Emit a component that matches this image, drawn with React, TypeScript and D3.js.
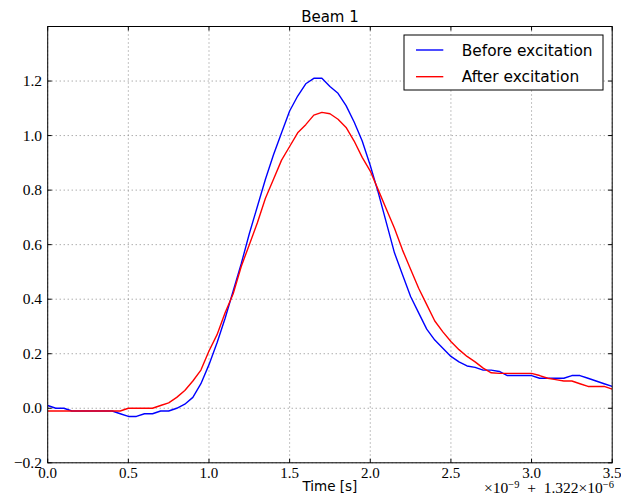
import React from "react";
import * as d3 from "d3";

const times = [
  0.0, 0.05, 0.1, 0.15, 0.2, 0.25, 0.3, 0.35, 0.4, 0.45, 0.5, 0.55, 0.6, 0.65, 0.7, 0.75,
  0.8, 0.85, 0.9, 0.95, 1.0, 1.05, 1.1, 1.15, 1.2, 1.25, 1.3, 1.35, 1.4, 1.45, 1.5, 1.55,
  1.6, 1.65, 1.7, 1.75, 1.8, 1.85, 1.9, 1.95, 2.0, 2.05, 2.1, 2.15, 2.2, 2.25, 2.3, 2.35,
  2.4, 2.45, 2.5, 2.55, 2.6, 2.65, 2.7, 2.75, 2.8, 2.85, 2.9, 2.95, 3.0, 3.05, 3.1, 3.15,
  3.2, 3.25, 3.3, 3.35, 3.4, 3.45, 3.5,
];

const before = [
  0.01, 0.0, 0.0, -0.01, -0.01, -0.01, -0.01, -0.01, -0.01, -0.02, -0.03, -0.03, -0.02, -0.02, -0.01, -0.01,
  0.0, 0.015, 0.04, 0.09, 0.16, 0.24, 0.33, 0.43, 0.53, 0.64, 0.74, 0.84, 0.93, 1.01, 1.09, 1.145,
  1.19, 1.21, 1.21, 1.18, 1.155, 1.11, 1.05, 0.98, 0.89, 0.79, 0.68, 0.57, 0.49, 0.41, 0.35, 0.29,
  0.25, 0.22, 0.19, 0.17, 0.155, 0.15, 0.14, 0.14, 0.135, 0.12, 0.12, 0.12, 0.12, 0.11, 0.11, 0.11,
  0.11, 0.12, 0.12, 0.11, 0.1, 0.09, 0.08,
];

const after = [
  -0.01, -0.01, -0.01, -0.01, -0.01, -0.01, -0.01, -0.01, -0.01, -0.01, 0.0, 0.0, 0.0, 0.0, 0.01, 0.02,
  0.04, 0.065, 0.1, 0.14, 0.21, 0.27, 0.35, 0.42, 0.52, 0.6, 0.68, 0.77, 0.84, 0.91, 0.96, 1.01,
  1.04, 1.075, 1.085, 1.08, 1.06, 1.03, 0.98, 0.92, 0.87, 0.8, 0.73, 0.66, 0.58, 0.51, 0.44, 0.38,
  0.32, 0.28, 0.245, 0.215, 0.19, 0.17, 0.147, 0.13, 0.128, 0.128, 0.128, 0.128, 0.128, 0.12, 0.11, 0.105,
  0.1, 0.1, 0.09, 0.08, 0.08, 0.08, 0.07,
];

const xTicks = [0.0, 0.5, 1.0, 1.5, 2.0, 2.5, 3.0, 3.5];
const yTicks = [-0.2, 0.0, 0.2, 0.4, 0.6, 0.8, 1.0, 1.2];
const seriesNames = ["Before excitation", "After excitation"];
const seriesColors = ["#0000ff", "#ff0000"];
const title = "Beam 1";
const xLabel = "Time [s]";

export default function App() {
  const W = 621;
  const H = 500;
  const left = 47.7;
  const right = 612.2;
  const top = 26.5;
  const bottom = 462.8;

  const x = d3.scaleLinear().domain([0, 3.5]).range([left, right]);
  const y = d3.scaleLinear().domain([-0.2, 1.4]).range([bottom, top]);

  const line = d3
    .line<number>()
    .x((_, i) => x(times[i]))
    .y((d) => y(d));

  const series = [before, after];
  const tickFont = "'Liberation Serif', 'DejaVu Serif', serif";
  const sans = "'DejaVu Sans', sans-serif";
  const fmt = (v: number) => (v < 0 ? "\u2212" : "") + Math.abs(v).toFixed(1);

  const lx = 404;
  const ly = 35;
  const lw = 199;
  const lh = 55;

  return (
    <svg width={W} height={H} style={{ position: "absolute", left: 0, top: 0 }}>
      <rect x={0} y={0} width={W} height={H} fill="#fff" />
      <defs>
        <clipPath id="plotclip">
          <rect x={left} y={top} width={right - left} height={bottom - top} />
        </clipPath>
      </defs>
      {xTicks.map((t) => (
        <line
          key={"gx" + t}
          x1={x(t)}
          x2={x(t)}
          y1={top}
          y2={bottom}
          stroke="#888"
          strokeWidth={1}
          strokeDasharray="1,3"
        />
      ))}
      {yTicks.map((t) => (
        <line
          key={"gy" + t}
          x1={left}
          x2={right}
          y1={y(t)}
          y2={y(t)}
          stroke="#888"
          strokeWidth={1}
          strokeDasharray="1,3"
        />
      ))}
      <g clipPath="url(#plotclip)">
        {series.map((s, i) => (
          <path
            key={"s" + i}
            d={line(s) || ""}
            fill="none"
            stroke={seriesColors[i]}
            strokeWidth={1.4}
            strokeLinejoin="round"
          />
        ))}
      </g>
      {xTicks.map((t) => (
        <g key={"tx" + t}>
          <line x1={x(t)} x2={x(t)} y1={bottom} y2={bottom - 4} stroke="#000" />
          <line x1={x(t)} x2={x(t)} y1={top} y2={top + 4} stroke="#000" />
          <text
            x={x(t)}
            y={477.5}
            textAnchor="middle"
            fontFamily={tickFont}
            fontSize={15}
            fill="#000"
          >
            {t.toFixed(1)}
          </text>
        </g>
      ))}
      {yTicks.map((t) => (
        <g key={"ty" + t}>
          <line x1={left} x2={left + 4} y1={y(t)} y2={y(t)} stroke="#000" />
          <line x1={right} x2={right - 4} y1={y(t)} y2={y(t)} stroke="#000" />
          <text
            x={42}
            y={y(t) + 5}
            textAnchor="end"
            fontFamily={tickFont}
            fontSize={15.5}
            fill="#000"
          >
            {fmt(t)}
          </text>
        </g>
      ))}
      <rect
        x={left}
        y={top}
        width={right - left}
        height={bottom - top}
        fill="none"
        stroke="#000"
        strokeWidth={1}
      />
      <text x={(left + right) / 2} y={21.5} textAnchor="middle" fontFamily={sans} fontSize={15} fill="#000">
        {title}
      </text>
      <text x={(left + right) / 2} y={490.5} textAnchor="middle" fontFamily={sans} fontSize={13.5} fill="#000">
        {xLabel}
      </text>
      <text x={614} y={493} textAnchor="end" fontFamily={tickFont} fontSize={15.5} fill="#000">
        <tspan>{"\u00d710"}</tspan>
        <tspan dy={-5} fontSize={10.5}>{"\u22129"}</tspan>
        <tspan dy={5}>{"\u2002+\u20021.322\u00d710"}</tspan>
        <tspan dy={-5} fontSize={10.5}>{"\u22126"}</tspan>
      </text>
      <rect x={lx} y={ly} width={lw} height={lh} fill="#fff" stroke="#000" strokeWidth={1} />
      {seriesNames.map((n, i) => (
        <g key={"lg" + i}>
          <line
            x1={416}
            x2={443.3}
            y1={50 + i * 26.7}
            y2={50 + i * 26.7}
            stroke={seriesColors[i]}
            strokeWidth={1.4}
          />
          <text x={461.7} y={55.5 + i * 26.7} fontFamily={sans} fontSize={15.4} fill="#000">
            {n}
          </text>
        </g>
      ))}
    </svg>
  );
}
